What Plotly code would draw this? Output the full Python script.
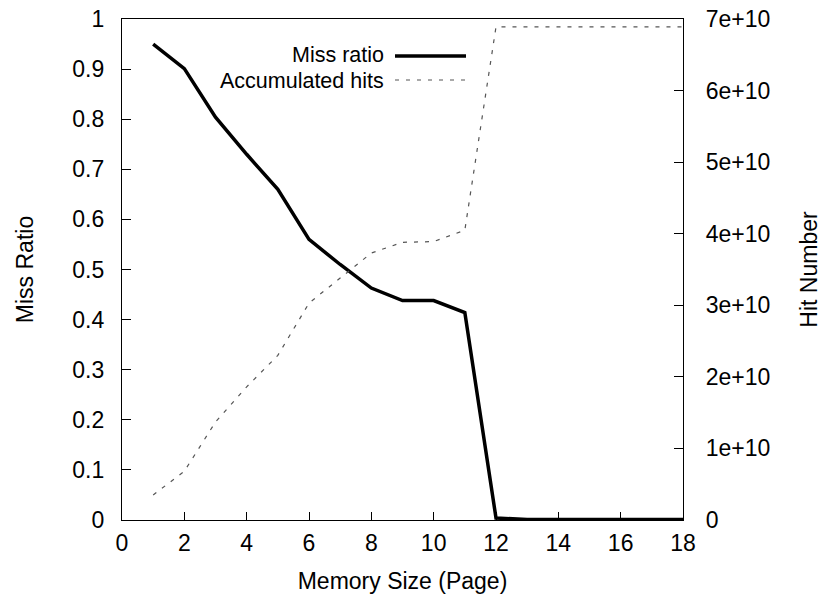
import plotly.graph_objects as go

memory_size = [1, 2, 3, 4, 5, 6, 7, 8, 9, 10, 11, 12, 13, 14, 15, 16, 17, 18]
miss_ratio = [0.950, 0.901, 0.804, 0.730, 0.660, 0.560, 0.510, 0.463, 0.438, 0.438,
              0.414, 0.004, 0.001, 0.001, 0.001, 0.001, 0.001, 0.001]
accumulated_hits = [0.35e10, 0.68e10, 1.37e10, 1.86e10, 2.30e10, 3.03e10, 3.38e10, 3.73e10,
                    3.88e10, 3.89e10, 4.05e10, 6.89e10, 6.89e10, 6.89e10, 6.89e10, 6.89e10,
                    6.89e10, 6.89e10]

x_ticks = list(range(0, 19, 2))
y_ticks = [i / 10 for i in range(11)]
y_tick_text = ["0"] + [f"{v:.1f}" for v in y_ticks[1:-1]] + ["1"]
y2_ticks = [i * 1e10 for i in range(8)]
y2_tick_text = ["0"] + [f"{i}e+10" for i in range(1, 8)]

FONT = "Liberation Sans, Arial, Helvetica, sans-serif"
FS = 23

fig = go.Figure()
fig.add_trace(go.Scatter(x=memory_size, y=accumulated_hits, mode="lines", yaxis="y2",
                         line=dict(color="#555555", width=1.2, dash="4px,7px"),
                         name="Accumulated hits", showlegend=False))
fig.add_trace(go.Scatter(x=memory_size, y=miss_ratio, mode="lines",
                         line=dict(color="black", width=3.5),
                         name="Miss ratio", showlegend=False))

# legend (text left of sample, gnuplot style)
L = 122.0; R = 683.0; T = 19.0; B = 520.0
def px(x): return (x - L) / (R - L)
def py(y): return (B - y) / (B - T)

legend_rows = [("Miss ratio", 56, -1.0, dict(color="black", width=3.5)),
               ("Accumulated hits", 80, 0.5, dict(color="#555555", width=1.2, dash="4px,7px"))]
for text, yy, dy, ln in legend_rows:
    fig.add_annotation(xref="paper", yref="paper", x=px(386), y=py(yy + dy), text=text,
                       showarrow=False, xanchor="right", yanchor="middle",
                       font=dict(family=FONT, size=21.5, color="black"))
    fig.add_shape(type="line", xref="paper", yref="paper", x0=px(395), x1=px(466),
                  y0=py(yy), y1=py(yy), line=ln)

axis_common = dict(showgrid=False, zeroline=False, showline=True, linecolor="black",
                   linewidth=1.3, ticks="inside", tickcolor="black", tickwidth=1.3,
                   automargin=False,
                   tickfont=dict(family=FONT, size=FS, color="black"))

fig.update_layout(
    width=822, height=599,
    margin=dict(l=122, r=139, t=19, b=79),
    paper_bgcolor="white", plot_bgcolor="white",
    showlegend=False,
    xaxis=dict(range=[0, 18], tickvals=x_ticks, ticklen=8, mirror=True,
               title=dict(text="Memory Size (Page)", font=dict(family=FONT, size=FS, color="black"),
                          standoff=18),
               ticklabelstandoff=2, **axis_common),
    yaxis=dict(range=[0, 1], tickvals=y_ticks, ticktext=y_tick_text, ticklen=9,
               title=dict(text="Miss Ratio", font=dict(family=FONT, size=FS, color="black"),
                          standoff=32),
               ticklabelstandoff=12, **axis_common),
    yaxis2=dict(range=[0, 7e10], tickvals=y2_ticks, ticktext=y2_tick_text, ticklen=9,
                overlaying="y", side="right",
                title=dict(text="Hit Number", font=dict(family=FONT, size=FS, color="black"),
                           standoff=38),
                ticklabelstandoff=17, **axis_common),
)

fig.write_html("out.html")
